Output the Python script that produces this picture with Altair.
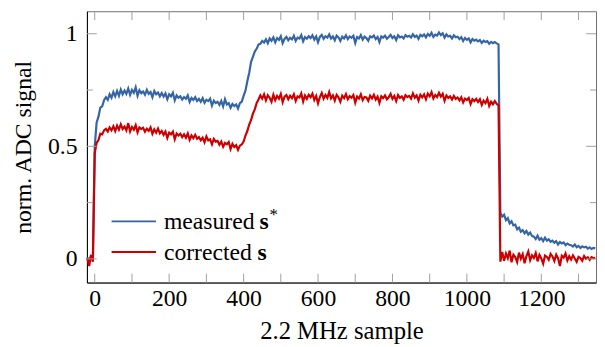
import altair as alt
import pandas as pd

# sample index of each reading (every 5th sample, -20 ... 1345)
samples = list(range(-20, 1350, 5))

# measured s* (blue)
measured = [
    0.006, -0.008, 0.012, 0.002, 0.50, 0.605, 0.632, 0.672, 0.678, 0.705,
    0.718, 0.706, 0.731, 0.716, 0.741, 0.722, 0.746, 0.724, 0.752, 0.731,
    0.748, 0.733, 0.757, 0.729, 0.751, 0.738, 0.762, 0.725, 0.749, 0.736,
    0.744, 0.729, 0.751, 0.733, 0.741, 0.718, 0.746, 0.731, 0.739, 0.722,
    0.737, 0.721, 0.735, 0.709, 0.731, 0.722, 0.738, 0.704, 0.726, 0.716,
    0.722, 0.708, 0.719, 0.711, 0.726, 0.697, 0.715, 0.706, 0.718, 0.701,
    0.711, 0.698, 0.714, 0.693, 0.707, 0.701, 0.712, 0.681, 0.703, 0.692,
    0.698, 0.684, 0.702, 0.677, 0.709, 0.686, 0.692, 0.671, 0.688, 0.679,
    0.686, 0.668, 0.692, 0.698, 0.724, 0.747, 0.789, 0.826, 0.874, 0.897,
    0.921, 0.933, 0.952, 0.955, 0.968, 0.961, 0.975, 0.958, 0.979, 0.969,
    0.984, 0.962, 0.981, 0.973, 0.989, 0.958, 0.977, 0.986, 0.971, 0.982,
    0.975, 0.991, 0.968, 0.983, 0.979, 0.994, 0.966, 0.985, 0.978, 0.989,
    0.981, 0.993, 0.974, 0.988, 0.962, 0.986, 0.995, 0.977, 0.989, 0.983,
    0.997, 0.979, 0.988, 0.971, 0.992, 0.984, 0.968, 0.987, 0.979, 0.993,
    0.976, 0.988, 0.982, 0.991, 0.959, 0.985, 0.979, 0.994, 0.974, 0.987,
    0.981, 0.969, 0.989, 0.984, 0.992, 0.976, 0.986, 0.963, 0.988, 0.983,
    0.991, 0.978, 0.986, 0.995, 0.981, 0.989, 0.972, 0.993, 0.984, 0.988,
    0.979, 0.994, 0.987, 0.991, 0.983, 0.998, 0.986, 0.992, 0.977, 0.995,
    0.989, 0.997, 0.984, 0.999, 0.991, 1.004, 0.986, 0.996, 0.992, 1.006,
    0.994, 1.002, 0.983, 0.997, 0.988, 0.991, 0.979, 0.993, 0.984, 0.987,
    0.976, 0.985, 0.968, 0.981, 0.973, 0.979, 0.962, 0.977, 0.969, 0.974,
    0.966, 0.972, 0.959, 0.969, 0.963, 0.967, 0.955, 0.964, 0.958, 0.963,
    0.957, 0.953, 0.205, 0.188, 0.196, 0.172, 0.181, 0.158, 0.167, 0.149,
    0.152, 0.131, 0.139, 0.121, 0.128, 0.114, 0.124, 0.108, 0.117, 0.102,
    0.099, 0.088, 0.103, 0.085, 0.092, 0.079, 0.094, 0.081, 0.087, 0.076,
    0.081, 0.072, 0.079, 0.064, 0.075, 0.069, 0.073, 0.061, 0.068, 0.063,
    0.061, 0.055, 0.064, 0.052, 0.058, 0.049, 0.056, 0.051, 0.054, 0.046,
    0.051, 0.044, 0.049, 0.047,
]

# corrected s (red)
corrected = [
    0.004, -0.032, 0.018, -0.012, 0.47, 0.515, 0.528, 0.556, 0.553, 0.571,
    0.578, 0.566, 0.584, 0.571, 0.589, 0.568, 0.592, 0.574, 0.598, 0.577,
    0.588, 0.571, 0.603, 0.566, 0.586, 0.574, 0.594, 0.562, 0.584, 0.577,
    0.582, 0.565, 0.578, 0.569, 0.584, 0.556, 0.575, 0.561, 0.579, 0.558,
    0.568, 0.551, 0.566, 0.537, 0.561, 0.553, 0.565, 0.531, 0.557, 0.548,
    0.556, 0.541, 0.553, 0.538, 0.557, 0.529, 0.548, 0.536, 0.551, 0.534,
    0.541, 0.527, 0.538, 0.518, 0.544, 0.526, 0.531, 0.509, 0.533, 0.521,
    0.524, 0.507, 0.521, 0.498, 0.515, 0.509, 0.519, 0.488, 0.511, 0.497,
    0.505, 0.484, 0.503, 0.508, 0.521, 0.548, 0.568, 0.597, 0.616, 0.645,
    0.664, 0.692, 0.708, 0.726, 0.712, 0.731, 0.704, 0.727, 0.716, 0.698,
    0.729, 0.705, 0.724, 0.712, 0.733, 0.696, 0.721, 0.728, 0.709, 0.725,
    0.714, 0.731, 0.702, 0.722, 0.717, 0.735, 0.699, 0.726, 0.711, 0.729,
    0.718, 0.734, 0.706, 0.724, 0.691, 0.719, 0.737, 0.712, 0.728, 0.715,
    0.741, 0.713, 0.726, 0.703, 0.729, 0.718, 0.698, 0.725, 0.714, 0.732,
    0.709, 0.723, 0.716, 0.728, 0.694, 0.721, 0.712, 0.731, 0.705, 0.719,
    0.717, 0.702, 0.725, 0.713, 0.729, 0.708, 0.721, 0.693, 0.722, 0.714,
    0.726, 0.709, 0.718, 0.733, 0.711, 0.724, 0.701, 0.728, 0.715, 0.722,
    0.707, 0.727, 0.719, 0.724, 0.712, 0.735, 0.716, 0.726, 0.703, 0.729,
    0.718, 0.731, 0.709, 0.734, 0.722, 0.741, 0.713, 0.728, 0.719, 0.738,
    0.721, 0.733, 0.702, 0.726, 0.715, 0.722, 0.708, 0.724, 0.711, 0.717,
    0.704, 0.718, 0.695, 0.712, 0.706, 0.715, 0.688, 0.709, 0.701, 0.711,
    0.697, 0.709, 0.684, 0.703, 0.692, 0.711, 0.679, 0.698, 0.687, 0.701,
    0.689, 0.682, -0.012, 0.031, -0.008, 0.024, 0.003, 0.037, -0.015, 0.019,
    0.008, -0.014, 0.028, 0.001, 0.021, -0.019, 0.012, 0.033, -0.006, 0.016,
    0.004, 0.026, -0.011, 0.018, 0.002, -0.021, 0.015, 0.009, -0.004, 0.022,
    0.011, -0.009, 0.019, 0.003, -0.032, 0.014, 0.006, 0.024, -0.007, 0.012,
    -0.003, 0.016, 0.002, -0.013, 0.009, 0.004, -0.008, 0.013, 0.001, 0.007,
    -0.004, 0.008, 0.003, 0.005,
]

x_labels = [0, 200, 400, 600, 800, 1000, 1200]
x_ticks = list(range(0, 1400, 100))
y_labels = [0, 0.5, 1]
y_major = [0, 0.5, 1]
y_minor = [0.25, 0.75]

BLUE = "#3465a4"
RED = "#cc0000"
FONT = "Liberation Serif"
FS = 24
W, H = 516, 275

xs = alt.Scale(domain=[-21, 1347], nice=False, zero=False)
ys = alt.Scale(domain=[-0.105, 1.1], nice=False, zero=False)

df_m = pd.DataFrame({"sample": samples, "value": measured})
df_c = pd.DataFrame({"sample": samples, "value": corrected})

x_axis = alt.Axis(values=x_labels, ticks=False, grid=False, domainColor="black", format="d",
                  labelFont=FONT, labelFontSize=FS, labelColor="black", labelPadding=4,
                  title="2.2 MHz sample", titleFont=FONT, titleFontSize=25,
                  titleFontWeight="normal", titleColor="black", titlePadding=9,
                  labelFlush=False)
y_axis = alt.Axis(values=y_labels, ticks=False, grid=False, domainColor="black", format="~g",
                  labelFont=FONT, labelFontSize=FS, labelColor="black", labelPadding=10,
                  title="norm. ADC signal", titleFont=FONT, titleFontSize=FS,
                  titleFontWeight="normal", titleColor="black", titlePadding=12)

X = lambda f: alt.X(f, scale=xs, axis=x_axis)
Y = lambda f: alt.Y(f, scale=ys, axis=y_axis)

line_m = alt.Chart(df_m).mark_line(color=BLUE, strokeWidth=2.2).encode(
    x=X("sample:Q"), y=Y("value:Q"))
line_c = alt.Chart(df_c).mark_line(color=RED, strokeWidth=2.2).encode(
    x=X("sample:Q"), y=Y("value:Q"))

TICK = "#a0a0a0"
xt = pd.DataFrame({"t": x_ticks})
xt_bottom = alt.Chart(xt).mark_rule(color=TICK, strokeWidth=1).encode(
    x=X("t:Q"), y=alt.value(H), y2=alt.value(H - 9))
xt_top = alt.Chart(xt).mark_rule(color=TICK, strokeWidth=1).encode(
    x=X("t:Q"), y=alt.value(0), y2=alt.value(9))

ymaj = pd.DataFrame({"t": y_major})
ymin = pd.DataFrame({"t": y_minor})
def ytick(d, x0, x1):
    return alt.Chart(d).mark_rule(color=TICK, strokeWidth=1).encode(
        y=Y("t:Q"), x=alt.value(x0), x2=alt.value(x1))

yt = [ytick(ymaj, 0, 10), ytick(ymaj, W, W - 10), ytick(ymin, 0, 6), ytick(ymin, W, W - 6)]

# legend
leg_lines = pd.DataFrame({"y": [213, 244], "c": [BLUE, RED]})
leg = alt.Chart(leg_lines).mark_rule(strokeWidth=2).encode(
    x=alt.value(25), x2=alt.value(70), y=alt.Y("y:Q", scale=None),
    color=alt.Color("c:N", scale=None))
leg_words = pd.DataFrame({"t": ["measured", "corrected"], "y": [221, 252]})
leg_t = alt.Chart(leg_words).mark_text(font=FONT, fontSize=FS, align="left",
                                       baseline="alphabetic", color="black").encode(
    x=alt.value(78), y=alt.Y("y:Q", scale=None), text="t:N")
leg_s = alt.Chart(pd.DataFrame({"t": ["s", "s"], "x": [175, 173], "y": [221, 252]})).mark_text(
    font=FONT, fontSize=FS, fontWeight="bold", align="left", baseline="alphabetic",
    color="black").encode(x=alt.X("x:Q", scale=None), y=alt.Y("y:Q", scale=None), text="t:N")
leg_star = alt.Chart(pd.DataFrame({"t": ["*"], "x": [185], "y": [212]})).mark_text(
    font=FONT, fontSize=17, align="left", baseline="alphabetic", color="black").encode(
    x=alt.X("x:Q", scale=None), y=alt.Y("y:Q", scale=None), text="t:N")

chart = alt.layer(line_m, line_c, xt_bottom, xt_top, *yt, leg, leg_t, leg_s, leg_star).properties(
    width=W, height=H,
    autosize=alt.AutoSizeParams(type="none"),
    padding={"left": 80, "top": 1, "right": 1, "bottom": 60},
).configure_view(stroke="#707070", strokeWidth=1)

chart.save("out.html", embed_options={"renderer": "svg", "actions": False})
